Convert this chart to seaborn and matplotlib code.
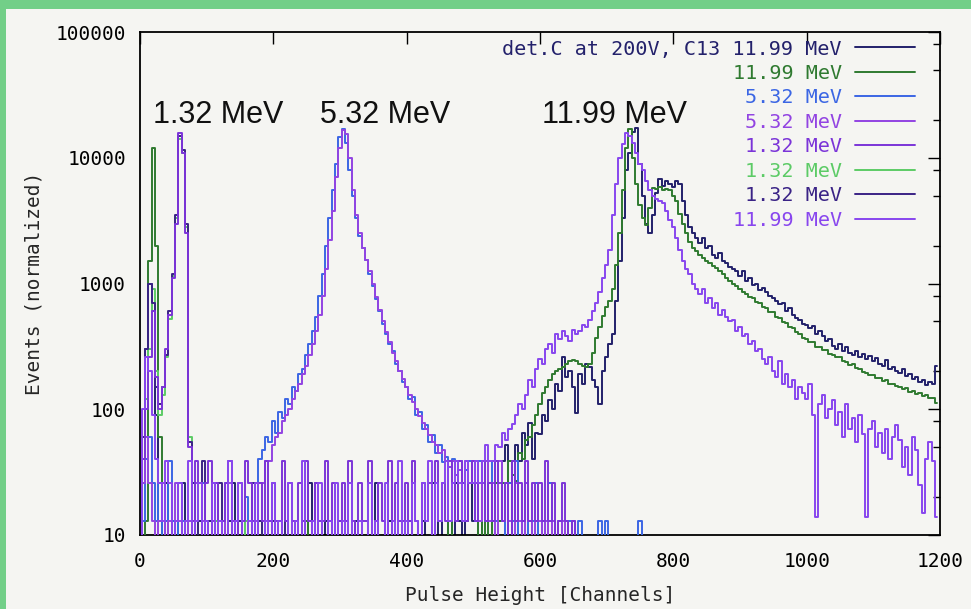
import numpy as np
import pandas as pd
import seaborn as sns
import matplotlib.pyplot as plt
from matplotlib.ticker import LogLocator, FuncFormatter, MultipleLocator, NullFormatter
from matplotlib.patches import Rectangle

# histogram bins are 5 channels wide, every series starts at channel 0
bin_width = 5

# det.C at 200V, C13 11.99 MeV (navy)
navy_1199 = [
    0, 26, 300, 1000, 600, 90, 13, 0, 26, 0, 13, 0, 0, 26, 0, 0, 13, 0, 0, 13,
    0, 13, 0, 0, 0, 13, 0, 0, 26, 0, 0, 0, 13, 0, 0, 0, 0, 13, 0, 0,
    0, 0, 13, 0, 0, 0, 0, 13, 0, 0, 0, 26, 0, 0, 0, 0, 13, 0, 0, 0,
    13, 0, 0, 0, 0, 13, 0, 0, 0, 0, 0, 26, 0, 0, 0, 13, 0, 0, 0, 0,
    0, 13, 0, 0, 0, 13, 0, 0, 26, 0, 13, 0, 0, 13, 0, 26, 13, 0, 13, 26,
    13, 26, 0, 26, 39, 13, 26, 39, 13, 39, 52, 26, 39, 52, 39, 65, 52, 78, 40, 65,
    64, 90, 80, 118, 100, 160, 140, 260, 180, 200, 150, 93, 190, 160, 230, 215, 170, 150, 110, 200,
    260, 330, 400, 730, 1500, 3300, 8000, 11000, 16000, 17300, 9000, 5000, 3000, 2540, 3500, 5200, 6800, 6000, 6500, 6200,
    5800, 6500, 6200, 4500, 3500, 2800, 2500, 2300, 2100, 2300, 1900, 2000, 1700, 1600, 1750, 1500, 1450, 1350, 1300, 1250,
    1150, 1250, 1050, 1100, 980, 1000, 880, 920, 850, 800, 760, 720, 690, 700, 600, 640, 560, 530, 510, 480,
    470, 440, 460, 400, 420, 380, 350, 360, 320, 300, 330, 290, 310, 280, 270, 290, 260, 275, 250, 265,
    240, 255, 230, 220, 245, 210, 215, 200, 195, 210, 185, 190, 175, 180, 165, 170, 155, 165, 160, 220,
]

# 11.99 MeV (dark green)
green_1199 = [
    0, 0, 13, 1500, 12000, 2000, 60, 0, 13, 0, 0, 13, 0, 0, 0, 0, 0, 0, 0, 0,
    0, 0, 0, 13, 0, 0, 0, 0, 0, 0, 0, 0, 0, 0, 0, 0, 0, 0, 0, 0,
    0, 0, 0, 0, 0, 0, 0, 0, 0, 0, 13, 0, 0, 0, 0, 0, 0, 0, 0, 0,
    0, 0, 0, 0, 0, 0, 0, 0, 0, 0, 0, 0, 0, 0, 0, 0, 0, 0, 0, 0,
    0, 0, 0, 0, 0, 0, 0, 0, 0, 0, 0, 0, 0, 13, 0, 0, 0, 0, 0, 0,
    0, 0, 13, 0, 13, 0, 13, 26, 13, 26, 26, 39, 30, 27, 45, 40, 57, 60, 75, 90,
    110, 134, 150, 170, 190, 200, 210, 215, 230, 240, 245, 240, 230, 220, 215, 230, 280, 370, 450, 550,
    650, 730, 900, 1400, 2500, 5500, 12000, 17000, 10000, 6200, 4200, 3300, 2900, 4000, 5700, 5600, 5800, 5500, 5600, 5500,
    5000, 4500, 3600, 3000, 2500, 2150, 1930, 1800, 1700, 1600, 1500, 1450, 1380, 1320, 1250, 1200, 1100, 1050, 1000, 950,
    905, 860, 830, 775, 760, 715, 700, 655, 640, 595, 590, 545, 530, 495, 485, 455, 445, 410, 395, 370,
    360, 345, 340, 315, 315, 295, 295, 275, 272, 260, 258, 242, 238, 226, 228, 212, 208, 198, 194, 188,
    186, 178, 177, 168, 170, 158, 160, 152, 151, 145, 147, 138, 140, 133, 134, 128, 130, 122, 124, 112,
]

# 5.32 MeV (blue)
blue_532 = [
    0, 13, 40, 60, 26, 13, 26, 0, 13, 39, 13, 0, 26, 13, 0, 13, 26, 0, 13, 26,
    0, 13, 26, 0, 13, 0, 26, 13, 0, 13, 13, 0, 20, 13, 26, 26, 40, 47, 60, 55,
    80, 65, 95, 85, 120, 110, 150, 140, 190, 210, 270, 330, 420, 540, 800, 1200, 2000, 3300, 5500, 9000,
    14500, 16800, 13000, 8000, 5000, 3330, 2400, 1900, 1530, 1200, 950, 750, 600, 480, 400, 330, 290, 230, 200, 165,
    150, 120, 125, 90, 95, 70, 75, 55, 62, 45, 52, 38, 42, 35, 40, 30, 39, 26, 33, 39,
    26, 13, 39, 26, 13, 26, 39, 13, 26, 13, 0, 26, 13, 39, 0, 13, 26, 0, 13, 26,
    0, 13, 0, 26, 13, 0, 13, 0, 0, 13, 0, 0, 13, 0, 0, 0, 0, 0, 13, 0,
    13, 0, 0, 0, 0, 0, 0, 0, 0, 0, 13, 0,
]

# 5.32 MeV (purple)
purple_532 = [
    0, 26, 60, 26, 13, 0, 13, 26, 0, 13, 0, 26, 13, 0, 0, 13, 0, 26, 0, 13,
    13, 0, 0, 26, 0, 13, 0, 26, 13, 0, 0, 13, 0, 13, 0, 13, 26, 26, 39, 39,
    52, 60, 65, 80, 90, 100, 120, 140, 160, 190, 220, 270, 330, 420, 560, 800, 1300, 2200, 3800, 7000,
    12000, 16500, 15500, 10000, 5500, 3500, 2500, 1900, 1550, 1250, 1000, 780, 620, 500, 410, 340, 280, 240, 200, 175,
    150, 130, 115, 100, 88, 78, 70, 62, 55, 52, 45, 47, 39, 35, 39, 30, 33, 26, 39, 26,
    39, 26, 13, 26, 39, 13, 26, 0, 39, 13, 26, 13, 0, 26, 13, 0, 26, 13, 0, 13,
    13, 0, 13, 0, 13, 0, 0, 13, 0, 0, 13, 0, 0, 0, 0, 0, 0, 0, 0, 0,
]

# 1.32 MeV (purple)
purple_132 = [
    0, 40, 100, 260, 600, 180, 100, 150, 300, 560, 1100, 3000, 15600, 11000, 2500, 50, 13, 39, 26, 0,
    26, 39, 13, 26, 0, 13, 26, 39, 13, 0, 26, 13, 39, 26, 13, 0, 26, 13, 39, 13,
    26, 13, 0, 39, 13, 26, 13, 0, 26, 13, 39, 13, 0, 26, 13, 13, 39, 13, 26, 0,
    13, 26, 13, 39, 13, 0, 26, 13, 13, 39, 0, 13, 26, 13, 0, 39, 13, 26, 13, 13,
    26, 13, 39, 13, 0, 26, 13, 26, 0, 39, 13, 26, 13, 39, 26, 13, 39, 26, 13, 26,
    39, 13, 26, 39, 13, 26, 13, 39, 26, 13, 26, 0, 39, 13, 26, 13, 39, 13, 26, 13,
    26, 13, 39, 13, 26, 0, 13, 26, 13, 0, 13, 0,
]

# 1.32 MeV (light green)
lightgreen_132 = [
    0, 40, 120, 300, 900, 200, 90, 130, 260, 520, 1150, 3300, 14000, 11000, 2800, 60, 13, 0, 26, 0,
    13, 0, 0, 13, 0, 0, 0, 13, 0, 0, 0, 0, 13, 0, 0, 0, 0, 13, 0, 0,
]

# 1.32 MeV (dark indigo)
indigo_132 = [
    0, 60, 300, 1000, 700, 150, 110, 150, 270, 600, 1200, 3500, 15000, 11500, 3000, 55, 26, 0, 13, 39,
    0, 13, 0, 0, 26, 0, 0, 13, 0, 0, 13, 0, 0, 0, 26, 0, 13, 0, 0, 0,
    13, 0, 0, 0, 13, 0, 0, 0, 0, 13, 0, 0, 0, 26, 0, 0, 0, 13, 0, 0,
]

# 11.99 MeV (violet)
violet_1199 = [
    0, 100, 260, 200, 90, 40, 26, 13, 39, 26, 0, 13, 26, 0, 13, 39, 0, 13, 26, 0,
    13, 0, 26, 0, 13, 0, 0, 39, 0, 13, 26, 0, 0, 13, 0, 26, 0, 0, 13, 0,
    26, 0, 13, 0, 0, 26, 0, 13, 0, 39, 0, 0, 13, 0, 26, 0, 0, 13, 0, 26,
    0, 13, 0, 26, 0, 0, 13, 0, 0, 26, 0, 13, 0, 0, 26, 0, 13, 0, 39, 0,
    13, 0, 26, 13, 0, 26, 13, 39, 0, 26, 13, 26, 39, 13, 26, 39, 26, 13, 39, 26,
    26, 39, 26, 39, 52, 39, 39, 52, 50, 65, 57, 70, 77, 90, 110, 100, 130, 170, 150, 210,
    250, 230, 300, 330, 280, 400, 360, 420, 380, 350, 430, 400, 420, 470, 450, 510, 600, 700, 850, 1100,
    1400, 1830, 3500, 6200, 10000, 12800, 15800, 15000, 13000, 11000, 9000, 8000, 6500, 5500, 5000, 4700, 4500, 4400, 3800, 3200,
    2800, 2300, 1830, 1500, 1300, 1200, 1000, 900, 830, 900, 700, 760, 640, 700, 560, 620, 540, 500, 510, 420,
    450, 380, 400, 330, 350, 290, 300, 250, 230, 260, 200, 180, 240, 160, 190, 150, 170, 120, 150, 135,
    120, 160, 90, 14, 110, 130, 85, 100, 118, 75, 95, 60, 110, 70, 85, 55, 90, 64, 14, 70,
    80, 50, 65, 45, 70, 40, 60, 75, 57, 35, 50, 30, 60, 47, 25, 15, 40, 55, 39, 14,
]

# legend order, colour, drawing order
series = [
    ("det.C at 200V, C13 11.99 MeV", navy_1199, "#23216b", 2),
    ("11.99 MeV", green_1199, "#2f7a30", 3),
    ("5.32 MeV", blue_532, "#3b66e4", 4),
    ("5.32 MeV", purple_532, "#9244e2", 5),
    ("1.32 MeV", purple_132, "#7b34d8", 8),
    ("1.32 MeV", lightgreen_132, "#5ccb66", 6),
    ("1.32 MeV", indigo_132, "#3a2386", 7),
    ("11.99 MeV", violet_1199, "#8846ee", 9),
]

bg = "#f5f5f2"
sns.set_style("white")
plt.rcParams['font.family'] = ['DejaVu Sans Mono']

fig = plt.figure(figsize=(9.71, 6.09), dpi=100, facecolor=bg)
ax = fig.add_axes([140 / 971, 1 - 535 / 609, 800 / 971, 503 / 609])
ax.set_facecolor(bg)

for label, counts, color, z in series:
    df = pd.DataFrame({"channel": np.arange(len(counts)) * bin_width, "events": counts})
    sns.lineplot(data=df, x="channel", y="events", color=color, lw=1.4,
                 drawstyle="steps-mid", estimator=None, ax=ax, label=label,
                 zorder=z, legend=False)

ax.set_yscale("log")
ax.set_xlim(0, 1200)
ax.set_ylim(10, 100000)

ax.xaxis.set_major_locator(MultipleLocator(200))
ax.yaxis.set_major_locator(LogLocator(base=10, numticks=10))
ax.yaxis.set_minor_locator(LogLocator(base=10, subs=[2, 5, 8], numticks=10))
ax.yaxis.set_major_formatter(FuncFormatter(lambda v, p: f"{v:g}"))
ax.yaxis.set_minor_formatter(NullFormatter())
ax.tick_params(which="both", direction="in", top=True, right=True, width=1.0, colors="black", labelsize=14)
ax.tick_params(which="major", length=8.5)
ax.tick_params(which="minor", length=5)
ax.tick_params(axis="y", pad=10)
ax.tick_params(axis="x", pad=12)
for s in ax.spines.values():
    s.set_linewidth(1.3)
    s.set_color("black")

ax.set_xlabel("Pulse Height [Channels]", fontsize=14, labelpad=11)
ax.set_ylabel("Events (normalized)", fontsize=14, labelpad=9)

for txt, xf in [("1.32 MeV", 0.0975), ("5.32 MeV", 0.306), ("11.99 MeV", 0.5925)]:
    ax.text(xf, 0.82, txt, transform=ax.transAxes, ha="center", va="baseline",
            fontsize=22, family="Liberation Sans", color="#111111", zorder=12)

handles, labels = ax.get_legend_handles_labels()
ax.legend(handles, labels, loc="upper right", bbox_to_anchor=(0.969, 0.985),
          frameon=False, markerfirst=False, labelcolor="linecolor",
          handlelength=3.0, handletextpad=0.65, labelspacing=0.27,
          borderpad=0, borderaxespad=0, prop={"family": "DejaVu Sans Mono", "size": 14.5})

# green scan border at the top and left
fig.add_artist(Rectangle((0, 1 - 9 / 609), 1, 9 / 609, transform=fig.transFigure, color="#72cf88", lw=0))
fig.add_artist(Rectangle((0, 0), 6 / 971, 1, transform=fig.transFigure, color="#72cf88", lw=0))

fig.savefig("out.png", dpi=100, facecolor=bg)
